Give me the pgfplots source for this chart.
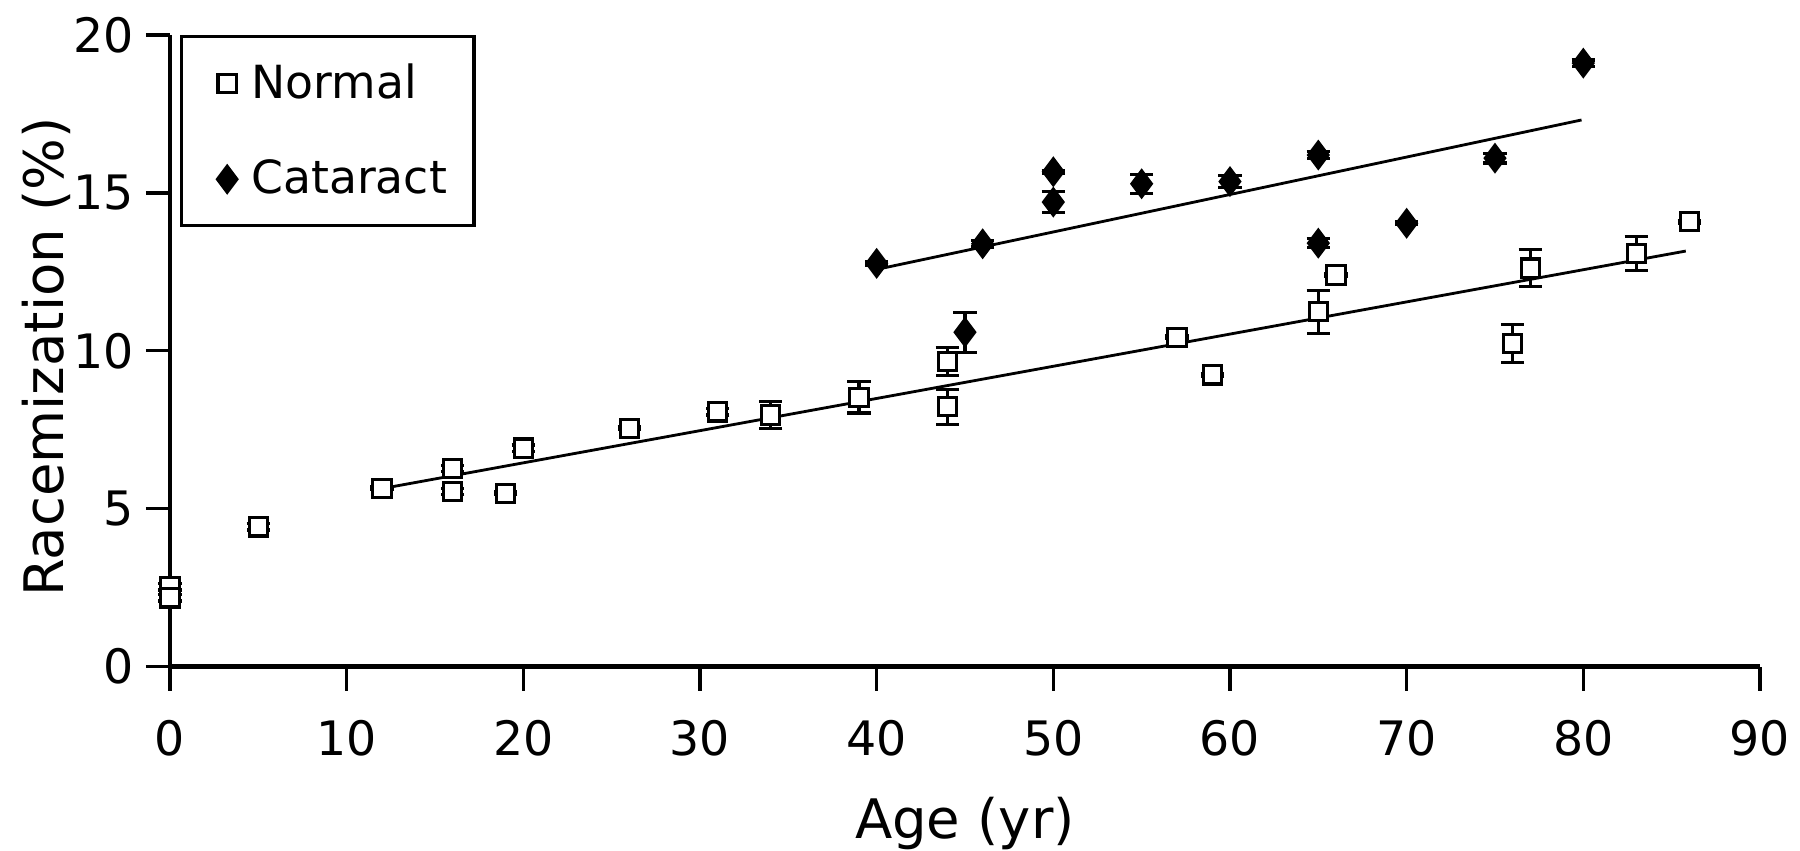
\documentclass[border=0pt]{standalone}
\usepackage{pgfplots}
\pgfplotsset{compat=1.18}
\usepackage{pgfplotstable}
\usepackage{fontspec}
\setmainfont{DejaVu Sans}

\pgfplotstableread{
x y e
0 2.53 0.1
0 2.18 0.1
5 4.43 0.1
12 5.65 0.05
16 6.28 0.1
16 5.54 0.1
19 5.49 0.05
20 6.92 0.1
26 7.55 0.05
31 8.07 0.1
34 7.97 0.42
39 8.53 0.5
44 9.66 0.45
44 8.23 0.55
57 10.43 0.05
59 9.24 0.05
65 11.24 0.68
66 12.40 0.05
76 10.24 0.6
77 12.62 0.58
83 13.09 0.54
86 14.09 0.05
}\normaldata

\pgfplotstableread{
x y e
40 12.77 0.05
45 10.59 0.63
46 13.39 0.1
50 15.67 0.05
50 14.71 0.33
55 15.29 0.3
60 15.36 0.2
65 16.20 0.1
65 13.41 0.15
70 14.04 0.05
75 16.10 0.15
80 19.11 0.1
}\cataractdata

\begin{document}
\begin{tikzpicture}
\begin{axis}[
  scale only axis,
  width=15.9cm, height=6.317cm,
  xmin=0, xmax=90, ymin=0, ymax=20,
  xtick={0,10,...,90}, ytick={0,5,...,20},
  axis x line*=bottom, axis y line*=left,
  x axis line style={line width=1.3pt},
  y axis line style={line width=0.9pt},
  tick align=outside,
  major tick length=2.4mm,
  every tick/.style={black, line width=0.9pt},
  tick label style={font=\fontsize{13.5}{16}\selectfont},
  xticklabel style={yshift=-1.75mm},
  /pgf/number format/assume math mode=true,
  xlabel={Age (yr)}, ylabel={Racemization (\%)},
  label style={font=\fontsize{15.5}{18}\selectfont},
  xlabel style={at={(axis description cs:0.5,-0.2485)}, anchor=center},
  ylabel style={at={(axis description cs:-0.078,0.49)}, anchor=center},
  clip=false,
  legend style={at={(axis description cs:0.0063,1)}, anchor=north west,
    draw=black, line width=0.9pt, font=\fontsize{13}{15}\selectfont,
    row sep=0.42cm, inner xsep=0.2cm, inner ysep=0.2cm},
  legend cell align=left,
  legend image code/.code={\path (-0.24cm,0cm) (0.156cm,0cm);
    \draw[#1] plot coordinates {(0cm,0cm)};},
]
\addplot[black, line width=0.8pt, no marks, forget plot] coordinates {(12.4,5.68) (85.8,13.16)};
\addplot[black, line width=0.8pt, no marks, forget plot] coordinates {(40.35,12.62) (79.9,17.31)};
\addplot[only marks, mark=square*, mark size=2.6pt,
  mark options={draw=black, fill=white, line width=0.9pt},
  error bars/.cd, y dir=both, y explicit,
  error bar style={line width=0.9pt, black},
  error mark options={rotate=90, mark size=3.3pt, line width=0.9pt, black}]
  table[x=x, y=y, y error=e]{\normaldata};
\addlegendentry{Normal}
\addplot[only marks, mark=diamond*, mark size=4pt,
  mark options={draw=black, fill=black, line width=0.5pt},
  error bars/.cd, y dir=both, y explicit,
  error bar style={line width=0.9pt, black},
  error mark options={rotate=90, mark size=3.3pt, line width=0.9pt, black}]
  table[x=x, y=y, y error=e]{\cataractdata};
\addlegendentry{Cataract}
\end{axis}
\pgfresetboundingbox
\path[use as bounding box] (-1.7cm,-1.843cm) rectangle (16.3cm,6.667cm);
\end{tikzpicture}
\end{document}
